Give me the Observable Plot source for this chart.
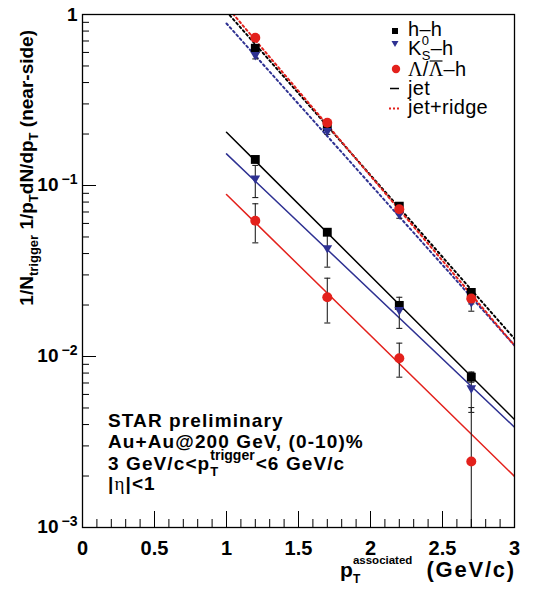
<!DOCTYPE html>
<html><head><meta charset="utf-8">
<script src="https://cdn.jsdelivr.net/npm/d3@7"></script>
<script src="https://cdn.jsdelivr.net/npm/@observablehq/plot@0.6"></script>
<style>
body{margin:0;background:#fff}
svg{font-family:"Liberation Sans",Arial,Helvetica,sans-serif}
</style>
</head><body><div id="chart"></div>
<script>
// ---------- data ----------
const pT = [1.2, 1.7, 2.2, 2.7];
// jet + ridge (total near-side yield)
const hhTotal     = [0.635, 0.221, 0.0757, 0.0237];
const hhTotalErr  = [0.012, 0.005, 0.002, 0.0012];
const k0sTotal    = [0.570, 0.205, 0.0668, 0.0204];
const k0sTotalErr = [0.02, 0.006, 0.0025, 0.002];
const lamTotal    = [0.731, 0.233, 0.0727, 0.0218];
const lamTotalErr = [0.02, 0.006, 0.002, 0.0015];
// jet only
const hhJet     = [0.142, 0.0533, 0.0199, 0.00757];
const hhJetErr  = [0.004, 0.0015, 0.0008, 0.0005];
const k0sJet    = [0.108, 0.0423, 0.0184, 0.00641];
const k0sJetErr = [0.023, 0.009, 0.0038, 0.0017];
const lamJet    = [0.0622, 0.0222, 0.00977, 0.00243];
const lamJetErr = [0.016, 0.0065, 0.0022, 0.0026];
// exponential fits, evaluated at the ends of the fit range
const fitX        = [1, 3];
const hhJetFit    = [0.205, 0.00428];
const k0sJetFit   = [0.153, 0.00386];
const lamJetFit   = [0.0886, 0.00199];
const hhRidgeFit  = [1.04, 0.0127];
const k0sRidgeFit = [0.886, 0.0116];
const lamRidgeFit = [1.118, 0.0116];
// axis ticks
const xMajor = [0, 0.5, 1, 1.5, 2, 2.5, 3];
const xMinor = d3.range(0, 3.0001, 0.1).filter(v => Math.abs(v * 2 - Math.round(v * 2)) > 1e-6);
const yMajor = [1, 0.1, 0.01, 0.001];
const yMinor = [0.001, 0.01, 0.1].flatMap(d => [2,3,4,5,6,7,8,9].map(k => k * d));
const yDecades = [0.1, 0.01, 0.001];
const yDecadeExp = ["−1", "−2", "−3"];

// ---------- styling ----------
const W = 533, H = 591;
const mL = 82, mR = 19, mT = 14, mB = 64;
const fw = W - mL - mR, fh = H - mT - mB;
const BLACK = "#000000", BLUE = "#2e3192", RED = "#e3211c";

const triDown = {draw(ctx, size){const y = Math.sqrt(size/(3*Math.sqrt(3))); const s = Math.sqrt(3)*y;
  ctx.moveTo(0, 1.5*y); ctx.lineTo(-s, -1.5*y); ctx.lineTo(s, -1.5*y); ctx.closePath();}};
const capSym = {draw(ctx, size){const w = Math.sqrt(size)/2; ctx.moveTo(-w, 0); ctx.lineTo(w, 0);}};

const seriesDefs = [
  {key:"hh",  color:BLACK, symbol:"square", r:5.0, total:hhTotal,  totalErr:hhTotalErr,  jet:hhJet,  jetErr:hhJetErr,  jetFit:hhJetFit,  ridgeFit:hhRidgeFit},
  {key:"k0s", color:BLUE,  symbol:triDown,  r:3.6, total:k0sTotal, totalErr:k0sTotalErr, jet:k0sJet, jetErr:k0sJetErr, jetFit:k0sJetFit, ridgeFit:k0sRidgeFit},
  {key:"lam", color:RED,   symbol:"circle", r:5.0, total:lamTotal, totalErr:lamTotalErr, jet:lamJet, jetErr:lamJetErr, jetFit:lamJetFit, ridgeFit:lamRidgeFit}
];

const rows = seriesDefs.flatMap(s => pT.flatMap((x, i) => [
  {key:s.key, x, y:s.total[i], err:s.totalErr[i]},
  {key:s.key, x, y:s.jet[i], err:s.jetErr[i]}
]));
const FLOOR = 1e-4; // errors reaching below zero are drawn to below the axis
const lo = d => Math.max(d.y - d.err, FLOOR);
const hi = d => d.y + d.err;

const marks = [];
// fits
for (const s of seriesDefs) {
  marks.push(Plot.line(fitX.map((x, i) => ({x, y:s.jetFit[i]})), {x:"x", y:"y", stroke:s.color, strokeWidth:1.5, clip:true}));
}
for (const s of seriesDefs) {
  marks.push(Plot.line(fitX.map((x, i) => ({x, y:s.ridgeFit[i]})), {x:"x", y:"y", stroke:s.color, strokeWidth:2, strokeDasharray:"2,3", clip:true}));
}
// error bars
marks.push(Plot.ruleX(rows, {x:"x", y1:lo, y2:hi, stroke:"#222", strokeWidth:1.1, clip:true}));
marks.push(Plot.dot(rows.filter(d => d.y - d.err > 1e-3), {x:"x", y:d => d.y - d.err, symbol:capSym, r:3.4, stroke:"#222", fill:"none", strokeWidth:1.1}));
marks.push(Plot.dot(rows, {x:"x", y:hi, symbol:capSym, r:3.4, stroke:"#222", fill:"none", strokeWidth:1.1}));
// markers
for (const s of seriesDefs) {
  marks.push(Plot.dot(rows.filter(d => d.key === s.key), {x:"x", y:"y", symbol:s.symbol, r:s.r, fill:s.color, stroke:"none"}));
}
// frame and ticks
marks.push(Plot.frame({stroke:"black", strokeWidth:1.3}));
marks.push(Plot.ruleX(xMajor, {x:d => d, insetTop:fh - 16, stroke:"black"}));
marks.push(Plot.ruleX(xMinor, {x:d => d, insetTop:fh - 8, stroke:"black"}));
marks.push(Plot.ruleY(yMajor, {y:d => d, insetRight:fw - 14, stroke:"black"}));
marks.push(Plot.ruleY(yMinor, {y:d => d, insetRight:fw - 7, stroke:"black"}));
// tick labels
marks.push(Plot.text(xMajor, {x:d => d, frameAnchor:"bottom", dy:27, lineAnchor:"bottom", text:d => String(d), fontWeight:"bold", fontSize:20, fill:"black"}));
marks.push(Plot.text([1], {y:d => d, frameAnchor:"left", dx:-5, dy:6, lineAnchor:"bottom", textAnchor:"end", text:() => "1", fontWeight:"bold", fontSize:19, fill:"black"}));
marks.push(Plot.text(yDecades, {y:d => d, frameAnchor:"left", dx:-24, dy:5, lineAnchor:"bottom", textAnchor:"end", text:() => "10", fontWeight:"bold", fontSize:19, fill:"black"}));
marks.push(Plot.text(yDecades, {y:d => d, frameAnchor:"left", dx:-5, dy:-2, lineAnchor:"bottom", textAnchor:"end", text:(d, i) => yDecadeExp[i], fontWeight:"bold", fontSize:14, fill:"black"}));

const chart = Plot.plot({
  width:W, height:H, marginLeft:mL, marginRight:mR, marginTop:mT, marginBottom:mB,
  x:{domain:[0, 3], axis:null},
  y:{type:"log", domain:[1e-3, 1], axis:null},
  style:{background:"white", fontFamily:'"Liberation Sans", Arial, sans-serif', overflow:"visible"},
  marks
});
document.getElementById("chart").append(chart);

// ---------- rich text (sub/superscripts) ----------
const svg = d3.select(chart);
function rich(parent, x, y, segs, opt = {}) {
  const base = Object.assign({size:19, weight:"bold", family:'"Liberation Sans", Arial, sans-serif', ls:0, anchor:"start"}, opt);
  const g = parent.append("g").attr("text-anchor", "start");
  let cx = 0;
  const put = (p, at) => {
    const t = g.append("text").attr("x", at).attr("y", p.dy || 0).attr("text-anchor", "start")
      .attr("font-size", p.size || base.size).attr("font-weight", p.weight || base.weight)
      .attr("font-family", p.family || base.family).attr("letter-spacing", p.ls ?? base.ls)
      .attr("fill", "black").text(p.t);
    return t.node().getComputedTextLength();
  };
  for (const s of segs) {
    if (s.stack) {
      let w = 0;
      for (const p of s.stack) w = Math.max(w, put(p, cx));
      cx += w + (s.gap || 0);
    } else {
      const w = put(s, cx);
      if (s.over) g.append("line").attr("x1", cx + 1).attr("x2", cx + w - 1).attr("y1", s.over).attr("y2", s.over).attr("stroke", "black").attr("stroke-width", 1.2);
      cx += w + (s.gap || 0);
    }
  }
  g.attr("transform", base.rotate
    ? `translate(${x},${y}) rotate(${base.rotate}) translate(${base.anchor === "end" ? -cx : 0},0)`
    : `translate(${base.anchor === "end" ? x - cx : x},${y})`);
  return g;
}

// y-axis title
rich(svg, 33, 30, [
  {t:"1/N"}, {t:"trigger", size:13, dy:5}, {t:" 1/p"}, {t:"T", size:13, dy:5}, {t:"dN/dp"}, {t:"T", size:13, dy:5}, {t:" (near-side)"}
], {anchor:"end", rotate:-90});

// x-axis title
rich(svg, 516, 577, [
  {t:"p", size:21}, {stack:[{t:"associated", size:11.5, dy:-13}, {t:"T", size:12, dy:6}], gap:14}, {t:"(GeV/c)", size:22, ls:1.8}
], {anchor:"end"});

// annotation block
const ann = {ls:1.1};
rich(svg, 108, 427, [{t:"STAR preliminary"}], ann);
rich(svg, 108, 448, [{t:"Au+Au@200 GeV, (0-10)%"}], ann);
rich(svg, 108, 470, [{t:"3 GeV/c<p"}, {stack:[{t:"trigger", size:14, dy:-10, ls:0}, {t:"T", size:13, dy:6, ls:0}], gap:1}, {t:"<6 GeV/c"}], ann);
rich(svg, 108, 490, [{t:"|"}, {t:"η", family:'"Liberation Serif", serif', weight:"normal"}, {t:"|<1"}], ann);

// legend
const leg = svg.append("g");
leg.append("rect").attr("x", 392).attr("y", 28).attr("width", 6).attr("height", 6).attr("fill", BLACK);
leg.append("path").attr("d", "M391.5,41 L398.5,41 L395,47 Z").attr("fill", BLUE);
leg.append("circle").attr("cx", 396).attr("cy", 69).attr("r", 4.2).attr("fill", RED);
leg.append("line").attr("x1", 390).attr("x2", 399).attr("y1", 88.5).attr("y2", 88.5).attr("stroke", BLACK).attr("stroke-width", 1.5);
leg.append("line").attr("x1", 389).attr("x2", 401).attr("y1", 108.5).attr("y2", 108.5).attr("stroke", RED).attr("stroke-width", 2).attr("stroke-dasharray", "2,2");
const L = {weight:"normal", size:20, ls:0.3};
rich(leg, 408, 36, [{t:"h–h"}], L);
rich(leg, 408, 55, [{t:"K"}, {stack:[{t:"0", size:13, dy:-10}, {t:"S", size:13, dy:5}]}, {t:"–h"}], L);
rich(leg, 408, 76, [{t:"Λ", family:'"Liberation Serif", serif'}, {t:"/"}, {t:"Λ", family:'"Liberation Serif", serif', over:-15}, {t:"–h"}], L);
rich(leg, 408, 95, [{t:"jet"}], L);
rich(leg, 408, 114, [{t:"jet+ridge"}], L);
</script>
</body></html>
